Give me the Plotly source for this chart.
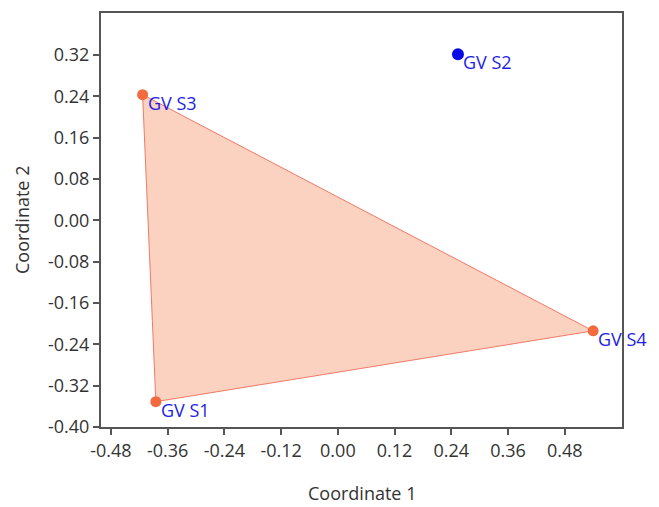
import plotly.graph_objects as go

labels = ["GV S1", "GV S2", "GV S3", "GV S4"]
coord1 = [-0.385, 0.254, -0.413, 0.540]
coord2 = [-0.351, 0.321, 0.243, -0.214]
groups = ["A", "B", "A", "A"]
hull_order = ["GV S3", "GV S4", "GV S1", "GV S3"]

x_ticks = [-0.48, -0.36, -0.24, -0.12, 0.00, 0.12, 0.24, 0.36, 0.48]
y_ticks = [-0.40, -0.32, -0.24, -0.16, -0.08, 0.00, 0.08, 0.16, 0.24, 0.32]

idx = {l: i for i, l in enumerate(labels)}
hx = [coord1[idx[l]] for l in hull_order]
hy = [coord2[idx[l]] for l in hull_order]

fig = go.Figure()
fig.add_trace(go.Scatter(x=hx, y=hy, mode="lines", fill="toself",
                         fillcolor="rgba(248,178,150,0.6)",
                         line=dict(color="rgba(238,110,90,0.9)", width=1),
                         hoverinfo="skip", showlegend=False))
colors = {"A": "#F26A3E", "B": "#0A0AE6"}
sizes = {"A": 11, "B": 12}
fig.add_trace(go.Scatter(x=coord1, y=coord2, mode="markers",
                         marker=dict(color=[colors[g] for g in groups],
                                     size=[sizes[g] for g in groups],
                                     opacity=1, line=dict(width=0)),
                         showlegend=False))
for l, xv, yv in zip(labels, coord1, coord2):
    fig.add_annotation(x=xv, y=yv, text=l, showarrow=False, xanchor="left",
                       yanchor="middle", xshift=3, yshift=-8,
                       font=dict(family="Open Sans", size=18, color="#1E1EE6"))

title_font = dict(family="Open Sans", size=18, color="#333333")
fig.add_annotation(text="Coordinate 1", xref="paper", yref="paper", x=0.5, y=0,
                   yshift=-66, xanchor="center", yanchor="middle",
                   showarrow=False, font=title_font)
fig.add_annotation(text="Coordinate 2", xref="paper", yref="paper", x=0, y=0.5,
                   xshift=-79, xanchor="center", yanchor="middle", textangle=-90,
                   showarrow=False, font=title_font)

axis_common = dict(showline=True, linecolor="#555555", linewidth=2, mirror=True,
                   ticks="outside", ticklen=6, tickcolor="#555555", tickwidth=2,
                   showgrid=False, zeroline=False,
                   tickfont=dict(family="Open Sans", size=18, color="#333333"))
fig.update_xaxes(range=[-0.501, 0.601], tickvals=x_ticks,
                 ticktext=[f"{v:.2f}" for v in x_ticks], **axis_common)
fig.update_yaxes(range=[-0.40, 0.401], tickvals=y_ticks,
                 ticktext=[f"{v:.2f}" for v in y_ticks], **axis_common)
fig.update_layout(width=659, height=507, margin=dict(l=101, r=37, t=13, b=80),
                  plot_bgcolor="white", paper_bgcolor="white")
fig.write_html("out.html")
